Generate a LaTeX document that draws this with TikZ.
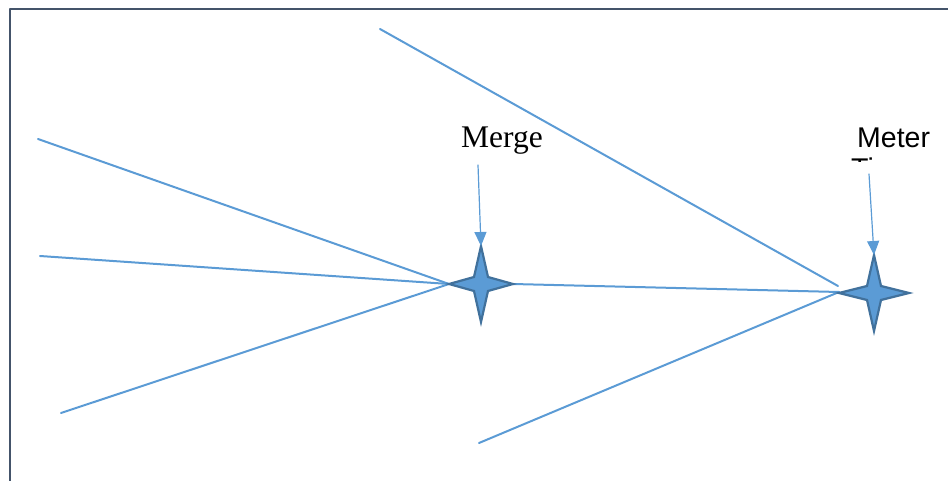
\documentclass[tikz,border=0pt]{standalone}
\usepackage{fontspec}
\newfontfamily\timesfont{Liberation Serif}
\newfontfamily\arialfont{Liberation Sans}
\usetikzlibrary{arrows.meta}
\definecolor{linkblue}{HTML}{5B9BD5}
\definecolor{starline}{HTML}{41719C}
\definecolor{frameline}{HTML}{44546A}
\tikzset{
  flow/.style={linkblue, line width=2pt},
  pointer/.style={linkblue, line width=1.2pt, -{Triangle[width=12pt,length=14pt]}},
  starshape/.style={fill=linkblue, draw=starline, line width=2.2pt, line join=miter},
}
% four pointed star: name, x, y, half width, half height
\newcommand{\fourstar}[5]{%
  \begin{scope}[shift={(#2,#3)}]
    \filldraw[starshape] (-#4,0) -- (-7,-7) -- (0,-#5) -- (7,-7) -- (#4,0)
      -- (7,7) -- (0,#5) -- (-7,7) -- cycle;
    \coordinate (#1) at (0,0);
    \coordinate (#1-w) at (-#4,0);
    \coordinate (#1-e) at (#4,0);
    \coordinate (#1-n) at (0,-#5);
  \end{scope}}

\begin{document}
\begin{tikzpicture}[line cap=round,line join=round,x=1pt,y=-1pt]
\useasboundingbox (0,0) rectangle (948,481);
\draw[frameline, line width=2pt, line cap=butt] (10,481) -- (10,9) -- (948,9);

% loose ends of the lines
\coordinate (topA) at (380,29);
\coordinate (topEnd) at (838,286);
\coordinate (inA) at (38,139);
\coordinate (inB) at (40,256);
\coordinate (inC) at (61,413);
\coordinate (inD) at (479,443);

\draw[flow] (topA) -- (topEnd);
\draw[flow] (inA) -- (481-32,284);
\draw[flow] (inB) -- (481-32,284);
\draw[flow] (inC) -- (481-32,284);
\draw[flow] (481+32,284) -- (874-35,292);
\draw[flow] (inD) -- (874-35,292);

\fourstar{merge}{481}{284}{32}{38}
\fourstar{meter}{874}{293}{35}{38}

% labels
\node[anchor=base west, inner sep=0, font=\timesfont\fontsize{31.5}{36}\selectfont] (mergetxt) at (461,148) {Merge};
\node[anchor=base west, inner sep=0, font=\arialfont\fontsize{28.5}{32}\selectfont] (metertxt) at (857,148) {Meter};
\begin{scope}
  \clip (840,150) rectangle (900,162);
  \node[anchor=base west, inner sep=0, font=\arialfont\fontsize{28.5}{32}\selectfont] (metertail) at (851,179) {Ti};
\end{scope}

\coordinate (mergeptr) at (478,165);
\coordinate (meterptr) at (869,174);
\draw[pointer] (mergeptr) -- (merge-n);
\draw[pointer] (meterptr) -- (meter-n);
\end{tikzpicture}
\end{document}
